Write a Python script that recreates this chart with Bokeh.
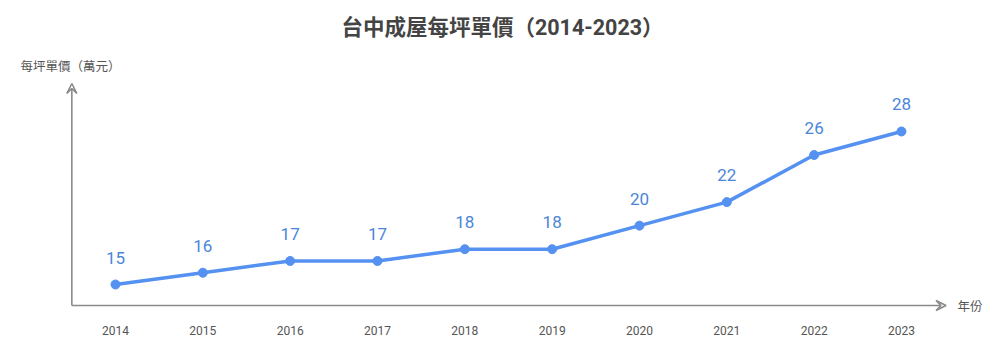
from bokeh.plotting import figure
from bokeh.models import Range1d, Arrow, VeeHead, ColumnDataSource
from bokeh.core.properties import value
from bokeh.embed import file_html
from bokeh.resources import INLINE

years = [2014, 2015, 2016, 2017, 2018, 2019, 2020, 2021, 2022, 2023]
prices = [15, 16, 17, 17, 18, 18, 20, 22, 26, 28]
title_text = "台中成屋每坪單價（2014-2023）"
y_label = "每坪單價（萬元）"
x_label = "年份"

W, H = 1000, 354
# pixel -> data mapping
x0px, dxpx = 115, 87.33
y0px, dypx = 284, 11.77

def xd(px):
    return years[0] + (px - x0px) / dxpx

def yd(py):
    return prices[0] + (y0px - py) / dypx

FONT = value("Roboto, 'Noto Sans CJK TC', sans-serif")

p = figure(width=W, height=H, output_backend="svg", toolbar_location=None,
           x_range=Range1d(xd(0), xd(W)), y_range=Range1d(yd(H), yd(0)),
           min_border=0, outline_line_color=None)
p.axis.visible = False
p.grid.visible = False
p.background_fill_color = "white"
p.border_fill_color = "white"

axis_color = "#8a8a8a"
x_start = years[0] - 0.5
x_end = years[-1] + 0.5
y_base = yd(305)
y_top = yd(83)

p.add_layout(Arrow(x_start=x_start, y_start=y_base, x_end=x_end + 0.01, y_end=y_base,
                   line_color=axis_color, line_width=1.6,
                   end=VeeHead(size=10, line_color=axis_color, line_width=1.6, fill_alpha=0)))
p.add_layout(Arrow(x_start=x_start, y_start=y_base, x_end=x_start, y_end=y_top,
                   line_color=axis_color, line_width=1.6,
                   end=VeeHead(size=10, line_color=axis_color, line_width=1.6, fill_alpha=0)))

src = ColumnDataSource(dict(x=years, y=prices, lbl=[str(v) for v in prices],
                            ylbl=[str(y) for y in years], yb=[yd(330)] * len(years)))

p.line("x", "y", source=src, line_color="#5591f0", line_width=3.5)
p.scatter("x", "y", source=src, size=9, fill_color="#5591f0", line_color="#5591f0")
p.text("x", "y", text="lbl", source=src, y_offset=-27, text_align="center",
       text_baseline="middle", text_font=FONT, text_font_size="17px", text_color="#4a86d8")
p.text("x", "yb", text="ylbl", source=src, text_align="center", text_baseline="middle",
       text_font=FONT, text_font_size="12px", text_color="#555555")

p.text(x=[xd(502)], y=[yd(27)], text=[title_text], text_align="center", text_baseline="middle",
       text_font=FONT, text_font_size="21.5px", text_font_style="bold", text_color="#444444")
p.text(x=[xd(70)], y=[yd(66)], text=[y_label], text_align="center", text_baseline="middle",
       text_font=FONT, text_font_size="12.5px", text_color="#555555")
p.text(x=[xd(957)], y=[yd(306)], text=[x_label], text_align="left", text_baseline="middle",
       text_font=FONT, text_font_size="12.5px", text_color="#555555")

open("out.html", "w").write(file_html(p, INLINE))
